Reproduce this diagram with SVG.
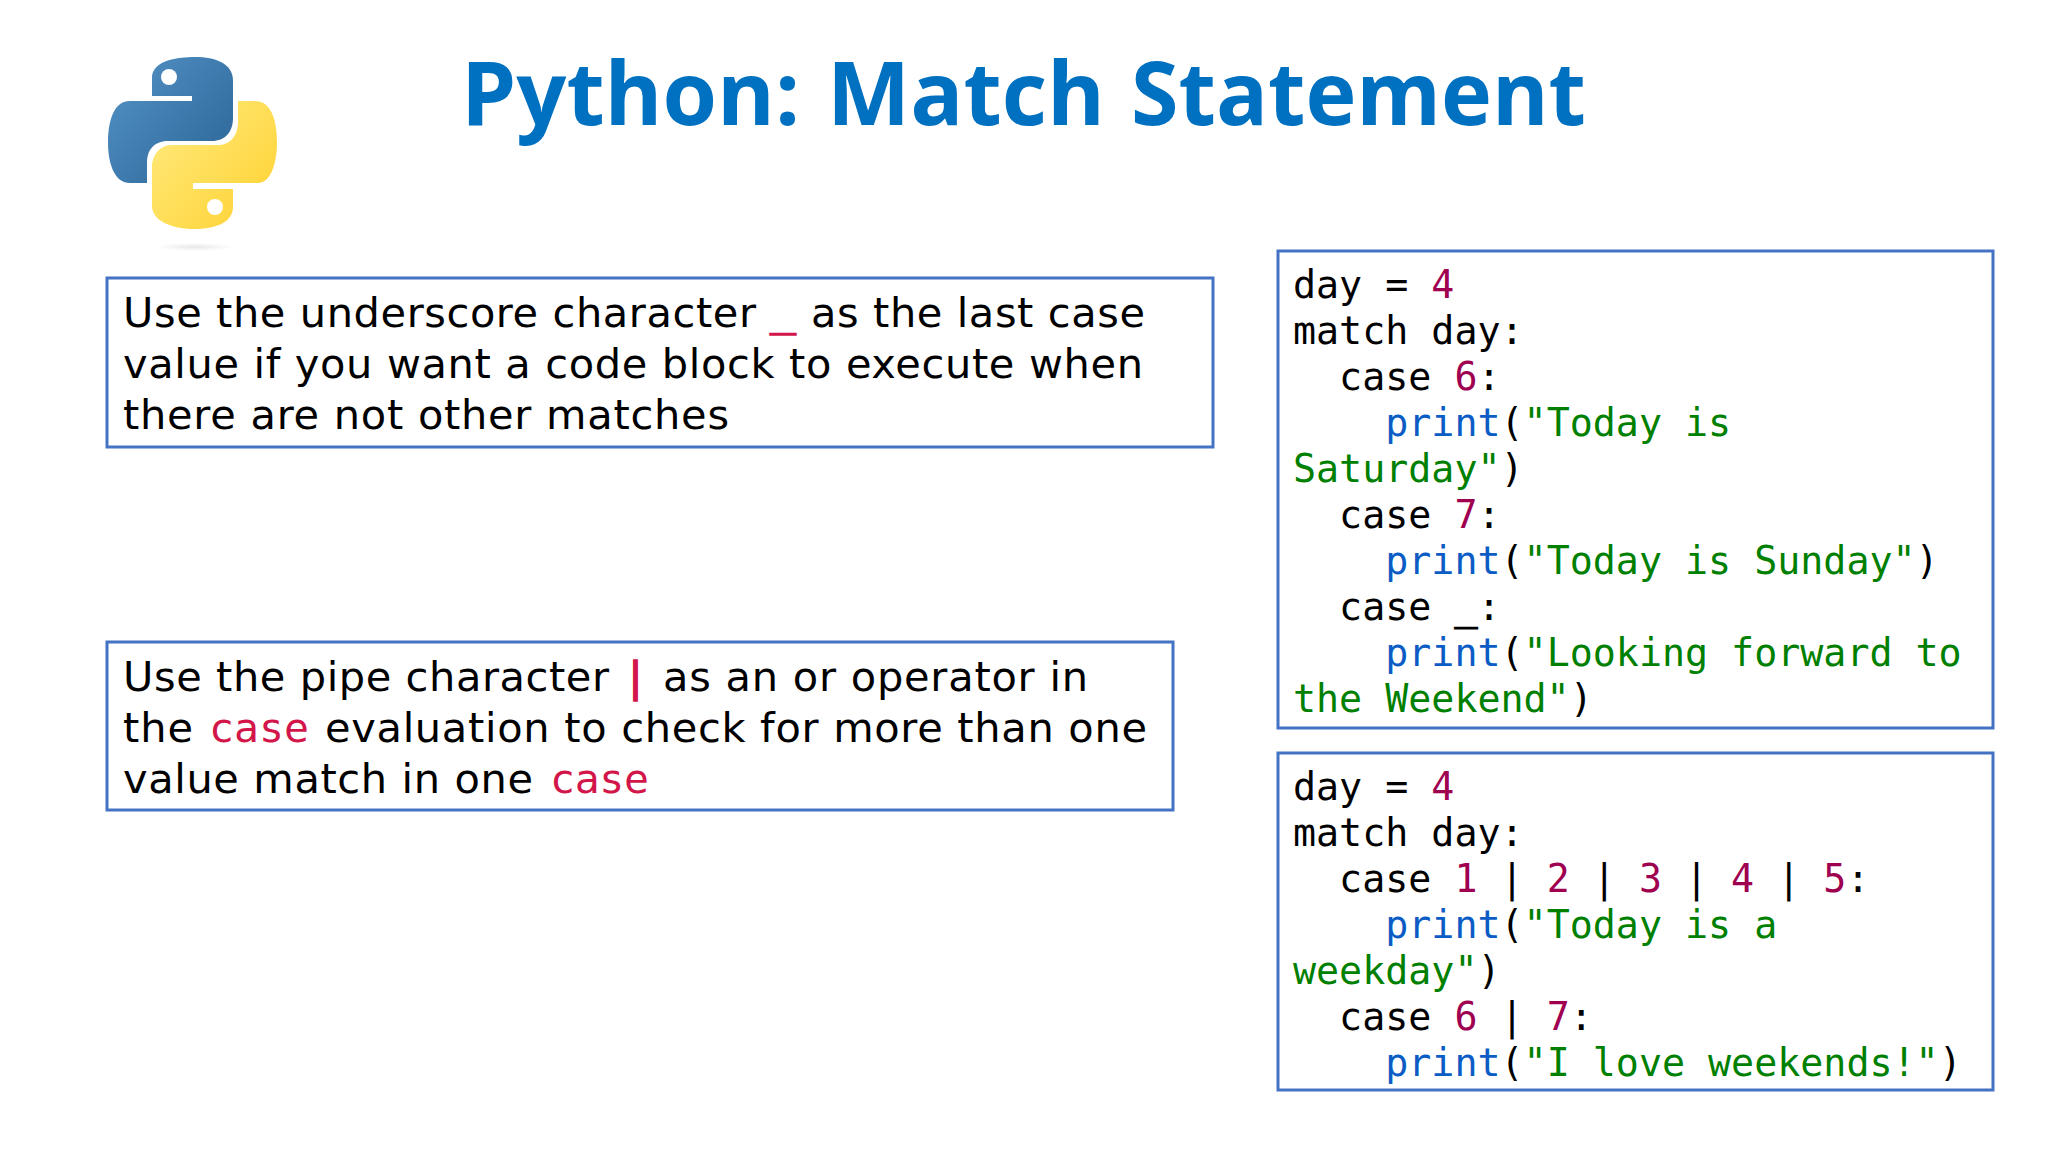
<svg xmlns="http://www.w3.org/2000/svg" width="2048" height="1152" viewBox="0 0 2048 1152">
<defs>
<linearGradient id="blue" gradientUnits="userSpaceOnUse" x1="110" y1="70" x2="235" y2="180"><stop offset="0" stop-color="#5290c4"/><stop offset="1" stop-color="#2b6496"/></linearGradient>
<linearGradient id="yellow" gradientUnits="userSpaceOnUse" x1="160" y1="120" x2="270" y2="220"><stop offset="0" stop-color="#ffe97a"/><stop offset="1" stop-color="#ffd233"/></linearGradient>
<radialGradient id="shadow"><stop offset="0" stop-color="#000" stop-opacity=".09"/><stop offset="1" stop-color="#000" stop-opacity="0"/></radialGradient>
</defs>
<style>
.box{fill:#fff;stroke:#4472c4;stroke-width:3}
.t{font-family:"DejaVu Sans","Noto Sans",sans-serif;font-size:41.5px;fill:#000}
.c{font-family:"DejaVu Sans Mono","Liberation Mono",monospace;font-size:38.3px;fill:#000;white-space:pre}
.m{font-family:"DejaVu Sans Mono","Liberation Mono",monospace;font-size:41.5px}
.n{fill:#a00050}.p{fill:#0b5cc4}.s{fill:#008000}.r{fill:#d3164a}
.h{stroke:#d3164a;stroke-width:1.4}
</style>
<rect width="2048" height="1152" fill="#fff"/>
<text y="125" font-family="'Open Sans','Noto Sans',sans-serif" font-weight="700" font-size="88" fill="#0070c0"><tspan x="461" textLength="339" lengthAdjust="spacingAndGlyphs">Python:</tspan> <tspan x="827" textLength="278" lengthAdjust="spacingAndGlyphs">Match</tspan> <tspan x="1131" textLength="455" lengthAdjust="spacingAndGlyphs">Statement</tspan></text>
<g id="logo">
<ellipse cx="195" cy="247" rx="40" ry="4" fill="url(#shadow)"/>
<path fill="url(#blue)" d="M195 57C178 57 152 60 152 78V96H192V101H130C112 101 108 125 108 143C108 160 113 183 130 183H147V163C147 147 157 141 168 141H212C225 141 233 132 233 118V80C233 64 216 57 195 57Z"/>
<circle cx="169" cy="77" r="8" fill="#fff"/>
<path fill="url(#yellow)" d="M195 229C212 229 233 224 233 207V189H193V183H258C272 183 277 160 277 142C277 122 272 101 255 101H238V122C238 137 229 145 218 145H172C160 145 152 155 152 167V206C152 222 174 229 195 229Z"/>
<circle cx="215" cy="207" r="8" fill="#fff"/>
</g>
<g id="note-underscore">
<rect class="box" x="107" y="278" width="1106" height="169"/>
<text class="t" y="327"><tspan x="123" textLength="633">Use the underscore character</tspan> <tspan class="r m h" x="770" y="325" textLength="26" lengthAdjust="spacingAndGlyphs">_</tspan> <tspan x="811" y="327" textLength="334">as the last case</tspan></text>
<text class="t" x="123" y="378" textLength="1020">value if you want a code block to execute when</text>
<text class="t" x="123" y="429" textLength="606">there are not other matches</text>
</g>
<g id="note-pipe">
<rect class="box" x="107" y="642" width="1066" height="168"/>
<text class="t" y="691"><tspan x="123" textLength="486">Use the pipe character</tspan> <tspan class="r m h" x="623">|</tspan> <tspan x="663" textLength="425">as an or operator in</tspan></text>
<text class="t" y="742"><tspan x="123" textLength="70">the</tspan> <tspan class="r m" x="209" textLength="100">case</tspan> <tspan x="325" textLength="822">evaluation to check for more than one</tspan></text>
<text class="t" y="793"><tspan x="123" textLength="410">value match in one</tspan> <tspan class="r m" x="550" textLength="99">case</tspan></text>
</g>
<g id="code-default">
<rect class="box" x="1278" y="251" width="715" height="477"/>
<text class="c" x="1293" y="298">day = <tspan class="n">4</tspan></text>
<text class="c" x="1293" y="344">match day:</text>
<text class="c" x="1293" y="390">  case <tspan class="n">6</tspan>:</text>
<text class="c" x="1293" y="436">    <tspan class="p">print</tspan>(<tspan class="s">"Today is</tspan></text>
<text class="c s" x="1293" y="482">Saturday"<tspan fill="#000">)</tspan></text>
<text class="c" x="1293" y="528">  case <tspan class="n">7</tspan>:</text>
<text class="c" x="1293" y="574">    <tspan class="p">print</tspan>(<tspan class="s">"Today is Sunday"</tspan>)</text>
<text class="c" x="1293" y="620">  case <tspan stroke="#000" stroke-width="1.2">_</tspan>:</text>
<text class="c" x="1293" y="666">    <tspan class="p">print</tspan>(<tspan class="s">"Looking forward to</tspan></text>
<text class="c s" x="1293" y="712">the Weekend"<tspan fill="#000">)</tspan></text>
</g>
<g id="code-pipe">
<rect class="box" x="1278" y="753" width="715" height="337"/>
<text class="c" x="1293" y="800">day = <tspan class="n">4</tspan></text>
<text class="c" x="1293" y="846">match day:</text>
<text class="c" x="1293" y="892">  case <tspan class="n">1</tspan> | <tspan class="n">2</tspan> | <tspan class="n">3</tspan> | <tspan class="n">4</tspan> | <tspan class="n">5</tspan>:</text>
<text class="c" x="1293" y="938">    <tspan class="p">print</tspan>(<tspan class="s">"Today is a</tspan></text>
<text class="c s" x="1293" y="984">weekday"<tspan fill="#000">)</tspan></text>
<text class="c" x="1293" y="1030">  case <tspan class="n">6</tspan> | <tspan class="n">7</tspan>:</text>
<text class="c" x="1293" y="1076">    <tspan class="p">print</tspan>(<tspan class="s">"I love weekends!"</tspan>)</text>
</g>
</svg>
